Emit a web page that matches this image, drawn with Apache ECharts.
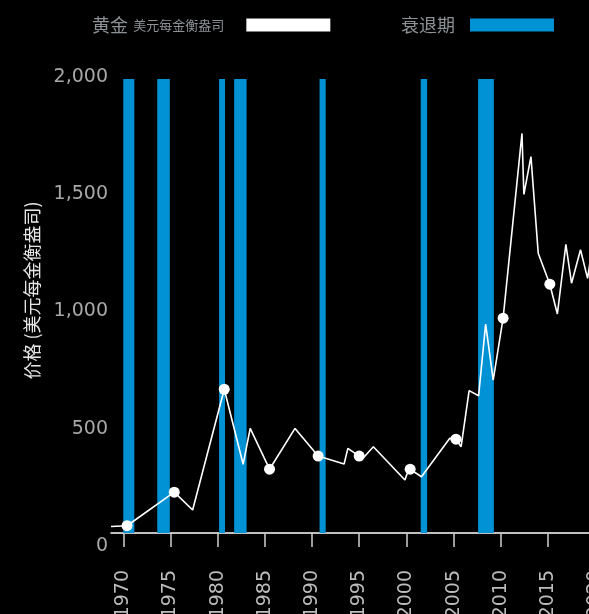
<!DOCTYPE html>
<html>
<head>
<meta charset="utf-8">
<script src="https://cdn.jsdelivr.net/npm/echarts@6/dist/echarts.min.js"></script>
<style>
html,body{margin:0;padding:0;background:#000;}
#c{width:589px;height:614px;}
</style>
</head>
<body>
<div id="c"></div>
<script>
// Gold price (USD per troy ounce)
var goldYears  = [1968.7, 1970.4, 1975.4, 1977.35, 1980.7, 1982.7, 1983.45, 1985.5, 1988.2, 1990.65, 1993.4, 1993.8, 1995.0, 1995.5, 1996.5, 1999.85, 2000.05, 2000.4, 2001.6, 2004.6, 2005.25, 2005.8, 2006.65, 2007.65, 2008.4, 2009.2, 2010.25, 2012.25, 2012.45, 2013.2, 2013.97, 2015.2, 2016.0, 2016.9, 2017.5, 2018.45, 2019.2, 2020.0];
var goldValues = [28, 31, 174, 98, 613, 293, 446, 272, 446, 328, 294, 361, 328, 323, 368, 226, 250, 272, 240, 404, 400, 368, 607, 585, 891, 652, 916, 1704, 1444, 1605, 1193, 1061, 934, 1231, 1065, 1208, 1086, 1300];
// Highlighted points (every five years)
var circleYears  = [1970.4, 1975.4, 1980.7, 1985.5, 1990.65, 1995.0, 2000.4, 2005.25, 2010.25, 2015.2];
var circleValues = [31, 174, 613, 272, 328, 328, 272, 400, 916, 1061];
// Recession periods
var recessionStart = [1970.0, 1973.6, 1980.15, 1981.75, 1990.8, 2001.52, 2007.6];
var recessionEnd   = [1971.17, 1974.93, 1980.78, 1983.07, 1991.45, 2002.2, 2009.27];
var recessionTop   = 1936;
// Axis ticks
var xTickYears = [1970, 1975, 1980, 1985, 1990, 1995, 2000, 2005, 2010, 2015, 2020];

var chart = echarts.init(document.getElementById('c'), null, {renderer: 'canvas'});
var fontFam = '"DejaVu Sans", sans-serif';

var recessionData = recessionStart.map(function (s, i) { return [s, recessionEnd[i], recessionTop]; });
var goldData = goldYears.map(function (y, i) { return [y, goldValues[i]]; });
var circleData = circleYears.map(function (y, i) { return [y, circleValues[i]]; });

var option = {
  backgroundColor: '#000',
  animation: false,
  legend: [
    {
      left: 92, top: 16, padding: 0, align: 'right',
      itemWidth: 84, itemHeight: 13, itemGap: 0,
      data: [{name: '黄金', icon: 'rect', itemStyle: {color: '#fff', opacity: 1}}],
      formatter: function () { return '{a|黄金} {b|美元每金衡盎司}'; },
      textStyle: {
        color: '#8c9196', padding: [0, 17, 0, 0],
        rich: {
          a: {fontSize: 18, color: '#8c9196', fontFamily: '"Noto Sans CJK SC", sans-serif', padding: [0, 2, 0, 0]},
          b: {fontSize: 13, color: '#8c9196', fontFamily: '"Noto Sans CJK SC", sans-serif'}
        }
      }
    },
    {
      left: 401, top: 16, padding: 0, align: 'right',
      itemWidth: 84, itemHeight: 13,
      data: [{name: '衰退期', icon: 'rect', itemStyle: {color: '#0092d4'}}],
      textStyle: {
        color: '#8c9196', fontSize: 18, padding: [0, 10, 0, 0],
        fontFamily: '"Noto Sans CJK SC", sans-serif'
      }
    }
  ],
  grid: {left: 111, right: -25, top: 64, bottom: 81, containLabel: false, outerBoundsMode: 'none'},
  xAxis: {
    type: 'value', min: 1968.7, max: 2022,
    axisLine: {show: true, lineStyle: {color: '#fff', width: 1.5}},
    axisTick: {show: true, length: 14, customValues: xTickYears, lineStyle: {color: '#cfcfcf', width: 1.5}},
    axisLabel: {
      show: true, customValues: xTickYears, rotate: 90, margin: 37,
      color: '#bdbdbd', fontSize: 19, fontFamily: fontFam,
      formatter: function (v) { return String(Math.round(v)); }
    },
    splitLine: {show: false}
  },
  yAxis: {
    type: 'value', min: 0, max: 2000, interval: 500,
    name: '价格 (美元每金衡盎司)', nameLocation: 'middle', nameGap: 70,
    nameTextStyle: {color: '#e6e6e6', fontSize: 18, fontFamily: '"Noto Sans CJK SC", sans-serif', padding: [0, 0, 0, 16]},
    axisLine: {show: false}, axisTick: {show: false}, splitLine: {show: false},
    axisLabel: {
      color: '#a8a8a8', fontSize: 19, fontFamily: fontFam, margin: 3,
      verticalAlign: 'top', lineHeight: 26,
      formatter: function (v) { return v.toLocaleString('en-US'); }
    }
  },
  series: [
    {
      name: '衰退期', type: 'custom', z: 1,
      itemStyle: {color: '#0092d4'},
      encode: {x: [0, 1], y: 2},
      renderItem: function (params, api) {
        var p1 = api.coord([api.value(0), api.value(2)]);
        var p2 = api.coord([api.value(1), 0]);
        return {
          type: 'rect',
          shape: {x: p1[0], y: p1[1], width: p2[0] - p1[0], height: p2[1] - p1[1]},
          style: {fill: '#0092d4'}
        };
      },
      data: recessionData
    },
    {
      name: '黄金', type: 'line', z: 3,
      showSymbol: false, symbol: 'none',
      lineStyle: {color: '#fff', width: 1.6},
      itemStyle: {color: '#fff'},
      data: goldData
    },
    {
      name: '黄金', type: 'scatter', z: 4,
      symbol: 'circle', symbolSize: 11,
      itemStyle: {color: '#fff', opacity: 1},
      data: circleData
    }
  ]
};
chart.setOption(option);
</script>
</body>
</html>
